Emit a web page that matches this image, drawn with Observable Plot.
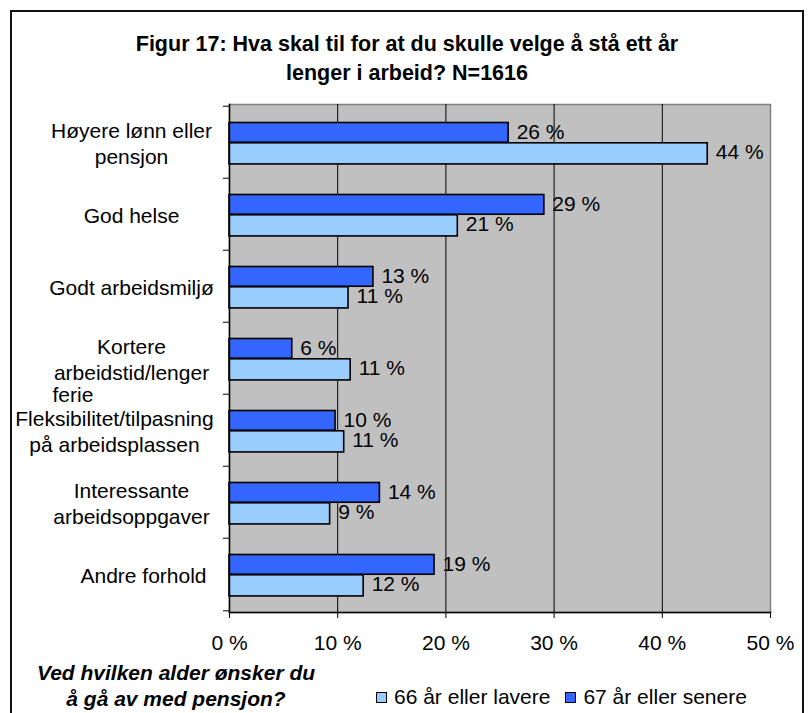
<!DOCTYPE html>
<html><head><meta charset="utf-8">
<script src="https://cdn.jsdelivr.net/npm/d3@7"></script>
<script src="https://cdn.jsdelivr.net/npm/@observablehq/plot@0.6"></script>
<style>
html,body{margin:0;padding:0;background:#fff;overflow:hidden;}
#wrap{position:relative;width:811px;height:713px;overflow:hidden;font-family:"Liberation Sans",Arial,sans-serif;color:#000;}
#border{position:absolute;left:10px;top:10px;width:794px;height:730px;border:2px solid #111;border-bottom:none;box-sizing:border-box;pointer-events:none;z-index:5;}
#title{position:absolute;left:11px;width:792px;top:30px;text-align:center;font-weight:bold;font-size:21.5px;line-height:29px;}
#chart{position:absolute;left:0;top:88px;}
#legend-title{position:absolute;left:36px;width:280px;top:660px;text-align:center;font-weight:bold;font-style:italic;font-size:21px;line-height:26px;white-space:nowrap;}
#legend{position:absolute;left:376px;top:684px;font-size:21px;line-height:26px;white-space:nowrap;}
.sw{display:inline-block;width:9px;height:9px;border:1.5px solid #000;vertical-align:middle;margin-right:7px;position:relative;top:-1px;}
</style>
</head><body>
<div id="wrap">
  <div id="title">Figur 17: Hva skal til for at du skulle velge å stå ett år<br>lenger i arbeid? N=1616</div>
  <div id="chart"></div>
  <div id="legend-title">Ved hvilken alder ønsker du<br>å gå av med pensjon?</div>
  <div id="legend"></div>
  <div id="border"></div>
</div>
<script>
// ---- data ----
const categories = [
  "Høyere lønn eller pensjon",
  "God helse",
  "Godt arbeidsmiljø",
  "Kortere arbeidstid/lenger ferie",
  "Fleksibilitet/tilpasning på arbeidsplassen",
  "Interessante arbeidsoppgaver",
  "Andre forhold"
];
const tickLabels = [
  "Høyere lønn eller\npensjon",
  "God helse",
  "Godt arbeidsmiljø",
  "Kortere\narbeidstid/lenger",
  "Fleksibilitet/tilpasning\npå arbeidsplassen",
  "Interessante\narbeidsoppgaver",
  "Andre forhold"
];
const overflowLabels = ["", "", "", "ferie", "", "", ""];
const series = ["66 år eller lavere", "67 år eller senere"];
const seriesColors = ["#99ccff", "#3366ff"];
const values66 = [44.2, 21.1, 11.0, 11.2, 10.6, 9.3, 12.4];
const values67 = [25.8, 29.1, 13.3, 5.8, 9.8, 13.9, 18.95];
const xTicks = [0, 10, 20, 30, 40, 50];

// ---- tables built from the arrays ----
const rows66 = categories.map((c, i) => ({cat: c, v: values66[i]}));
const rows67 = categories.map((c, i) => ({cat: c, v: values67[i]}));
const labelRows = categories.map((c, i) => ({cat: c, label: tickLabels[i], extra: overflowLabels[i]}));

const plotTop = 16, plotH = 508;
const B = plotH / categories.length;
const FONT = "Liberation Sans, Arial, sans-serif";
const pct = d => Math.round(d.v) + " %";

const leftShift = {"Fleksibilitet/tilpasning på arbeidsplassen": -115, "Andre forhold": -86};

const chart = Plot.plot({
  width: 811,
  height: 569,
  marginLeft: 229,
  marginRight: 41,
  marginTop: plotTop,
  marginBottom: 45,
  style: {fontFamily: FONT, fontSize: "21px", background: "transparent", color: "#000", overflow: "visible"},
  x: {domain: [0, 50], ticks: xTicks, label: null},
  y: {domain: categories, padding: 0, axis: null, label: null},
  marks: [
    Plot.frame({fill: "#c0c0c0", stroke: "#808080", strokeWidth: 1.5}),
    Plot.ruleX(xTicks.filter(t => t > 0 && t < 50), {stroke: "#000", strokeWidth: 1}),
    Plot.barX(rows67, {x: "v", y: "cat", fill: seriesColors[1], stroke: "#000", strokeWidth: 1.6,
      insetTop: 16.5, insetBottom: B - 36.8}),
    Plot.barX(rows66, {x: "v", y: "cat", fill: seriesColors[0], stroke: "#000", strokeWidth: 1.6,
      insetTop: 36.8, insetBottom: B - 58.5}),
    Plot.frame({anchor: "left", stroke: "#000", strokeWidth: 1.5}),
    Plot.frame({anchor: "bottom", stroke: "#000", strokeWidth: 1.5}),
    Plot.axisX({ticks: xTicks, tickFormat: d => d + " %", tickSize: 6, tickPadding: 17, fontSize: 21, label: null}),
    Plot.axisY({tickSize: 6, tickFormat: () => "", dy: -B / 2, label: null}),
    Plot.axisY({ticks: [categories[categories.length - 1]], tickSize: 6, tickFormat: () => "", dy: B / 2, label: null}),
    Plot.text(rows67, {x: "v", y: "cat", text: pct, textAnchor: "start", dx: 8, dy: -10.7, fontSize: 21}),
    Plot.text(rows66, {x: "v", y: "cat", text: pct, textAnchor: "start", dx: 8, dy: 9.9, fontSize: 21}),
    Plot.text(labelRows.filter(d => !(d.cat in leftShift)), {y: "cat", text: "label", frameAnchor: "left",
      textAnchor: "middle", dx: -98, lineHeight: 1.24, fontSize: 21}),
    Plot.text(labelRows.filter(d => d.cat === categories[4]), {y: "cat", text: "label", frameAnchor: "left",
      textAnchor: "middle", dx: leftShift[categories[4]], lineHeight: 1.24, fontSize: 21}),
    Plot.text(labelRows.filter(d => d.cat === categories[6]), {y: "cat", text: "label", frameAnchor: "left",
      textAnchor: "middle", dx: leftShift[categories[6]], lineHeight: 1.24, fontSize: 21}),
    Plot.text(labelRows.filter(d => d.extra), {y: "cat", text: "extra", frameAnchor: "left",
      textAnchor: "start", dx: -177, dy: 37, fontSize: 21})
  ]
});
document.getElementById("chart").appendChild(chart);

const legend = document.getElementById("legend");
series.forEach((s, i) => {
  const item = document.createElement("span");
  item.style.marginRight = i === 0 ? "15px" : "0";
  const sw = document.createElement("span");
  sw.className = "sw";
  sw.style.background = seriesColors[i];
  item.appendChild(sw);
  item.appendChild(document.createTextNode(s));
  legend.appendChild(item);
});
</script>
</body></html>
